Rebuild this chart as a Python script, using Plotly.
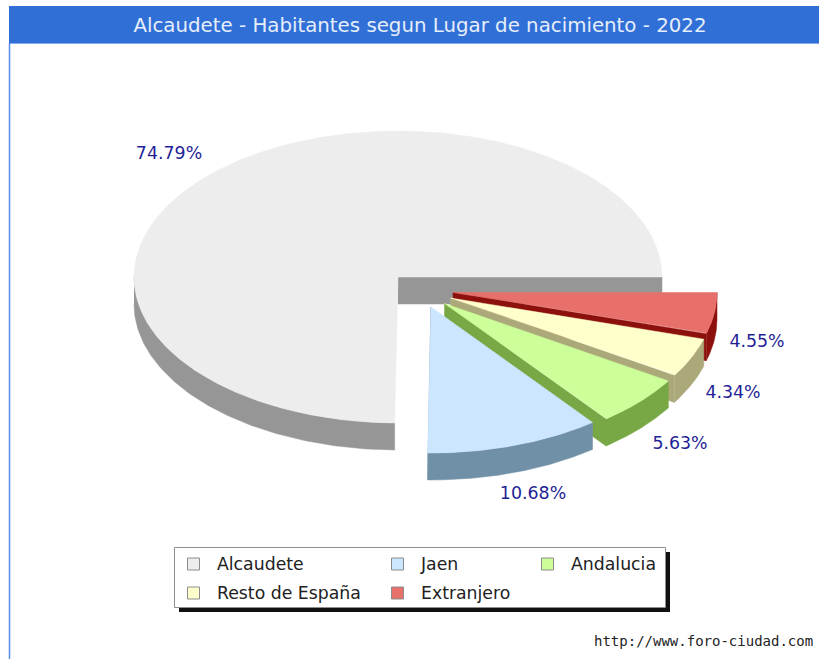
import numpy as np
import plotly.graph_objects as go

# ---- data ----
categories = ["Alcaudete", "Jaen", "Andalucia", "Resto de España", "Extranjero"]
shares = [74.79, 10.68, 5.63, 4.34, 4.55]
title_text = "Alcaudete - Habitantes segun Lugar de nacimiento - 2022"
source_text = "http://www.foro-ciudad.com"

# ---- styling / layout ----
top_colors = ["#EDEDED", "#CCE6FF", "#CCFF99", "#FFFFCC", "#E8706A"]
side_colors = ["#969696", "#7090A8", "#78A845", "#ABA87A", "#8C100C"]
explode_px = [(0, 0), (33, 30), (46.5, 26.5), (52.5, 21), (55, 15.5)]
label_px = [(169, 155), (533, 494.5), (680, 445), (733, 394), (757, 343)]
legend_px = [(193.5, 564), (397.5, 564), (547.5, 564), (193.5, 593), (397.5, 593)]
CX, CY, RX, RY, DEPTH = 398, 277, 264, 146, 27
W, H = 819, 659
TEXT_BLUE = "#1F1F96"
FONT = "DejaVu Sans"


def ellipse(cx, cy, deg):
    t = np.radians(deg)
    return cx + RX * np.cos(t), cy - RY * np.sin(t)


def poly(fig, xs, ys, color, name):
    fig.add_trace(go.Scatter(
        x=list(xs), y=list(ys), mode="lines", fill="toself", fillcolor=color,
        line=dict(color=color, width=0.5), hoverinfo="name", name=name, showlegend=False))


fig = go.Figure()

# cumulative angles from the shares
edges = np.concatenate([[0.0], np.cumsum(shares) / np.sum(shares) * 360.0])

# back-to-front: main slice, then exploded slices from the right towards the front
order = [0, 4, 3, 2, 1]
for i in order:
    a0, a1 = edges[i], edges[i + 1]
    cx = CX + explode_px[i][0]
    cy = CY + explode_px[i][1]
    # wall on the slice's starting edge
    ox, oy = ellipse(cx, cy, a0)
    poly(fig, [cx, ox, ox, cx, cx], [cy, oy, oy + DEPTH, cy + DEPTH, cy], side_colors[i], categories[i])
    # outer rim (only the lower half of the ellipse faces the viewer)
    lo, hi = max(a0, 180.0), min(a1, 360.0)
    if hi > lo:
        t = np.linspace(lo, hi, 120)
        ax, ay = ellipse(cx, cy, t)
        poly(fig, np.r_[ax, ax[::-1]], np.r_[ay, ay[::-1] + DEPTH], side_colors[i], categories[i])
    # top face
    t = np.linspace(a0, a1, 360)
    ax, ay = ellipse(cx, cy, t)
    poly(fig, np.r_[cx, ax, cx], np.r_[cy, ay, cy], top_colors[i], categories[i])

# percentage labels
fig.add_trace(go.Scatter(
    x=[p[0] for p in label_px], y=[p[1] for p in label_px], mode="text",
    text=[f"{v:.2f}%" for v in shares], textposition="middle center",
    textfont=dict(family=FONT, size=17.4, color=TEXT_BLUE), hoverinfo="skip", showlegend=False))

# legend swatches and texts
fig.add_trace(go.Scatter(
    x=[p[0] for p in legend_px], y=[p[1] for p in legend_px], mode="markers",
    marker=dict(symbol="square", size=12, color=top_colors, line=dict(color="#8C8C8C", width=1)),
    hoverinfo="skip", showlegend=False))
fig.add_trace(go.Scatter(
    x=[p[0] + 23.5 for p in legend_px], y=[p[1] + 2 for p in legend_px], mode="text",
    text=categories, textposition="middle right",
    textfont=dict(family=FONT, size=17.3, color="#222222"), hoverinfo="skip", showlegend=False))

shapes = [
    dict(type="rect", x0=9, x1=W, y0=6, y1=43, fillcolor="#3070D6", line_width=0, layer="below"),
    dict(type="line", x0=9, x1=W, y0=43.5, y1=43.5, line=dict(color="#86ABEE", width=1), layer="below"),
    dict(type="line", x0=9.5, x1=9.5, y0=43, y1=H, line=dict(color="#5A8AE6", width=1.5), layer="below"),
    dict(type="rect", x0=179, x1=670, y0=552, y1=612, fillcolor="#111111", line_width=0, layer="below"),
    dict(type="rect", x0=174.5, x1=665.5, y0=547.5, y1=607.5, fillcolor="white",
         line=dict(color="#8E8E8E", width=1), layer="below"),
]

fig.update_layout(
    width=W, height=H, margin=dict(l=0, r=0, t=0, b=0), autosize=False,
    paper_bgcolor="white", plot_bgcolor="white", showlegend=False,
    xaxis=dict(range=[0, W], visible=False, domain=[0, 1], fixedrange=True),
    yaxis=dict(range=[H, 0], visible=False, domain=[0, 1], fixedrange=True),
    shapes=shapes,
    title=dict(text=title_text, x=420 / W, xanchor="center", xref="paper",
               y=1 - 25 / H, yanchor="middle", yref="paper",
               font=dict(family=FONT, size=19.8, color="#E6EEFB")),
    annotations=[dict(text=source_text, x=815, y=641, xref="x", yref="y", xanchor="right",
                      yanchor="middle", showarrow=False,
                      font=dict(family="DejaVu Sans Mono", size=14, color="#222222"))],
)
fig.write_html("out.html", config={"displayModeBar": False},
               post_script="document.body.style.margin='0';document.documentElement.style.overflow='hidden';")
